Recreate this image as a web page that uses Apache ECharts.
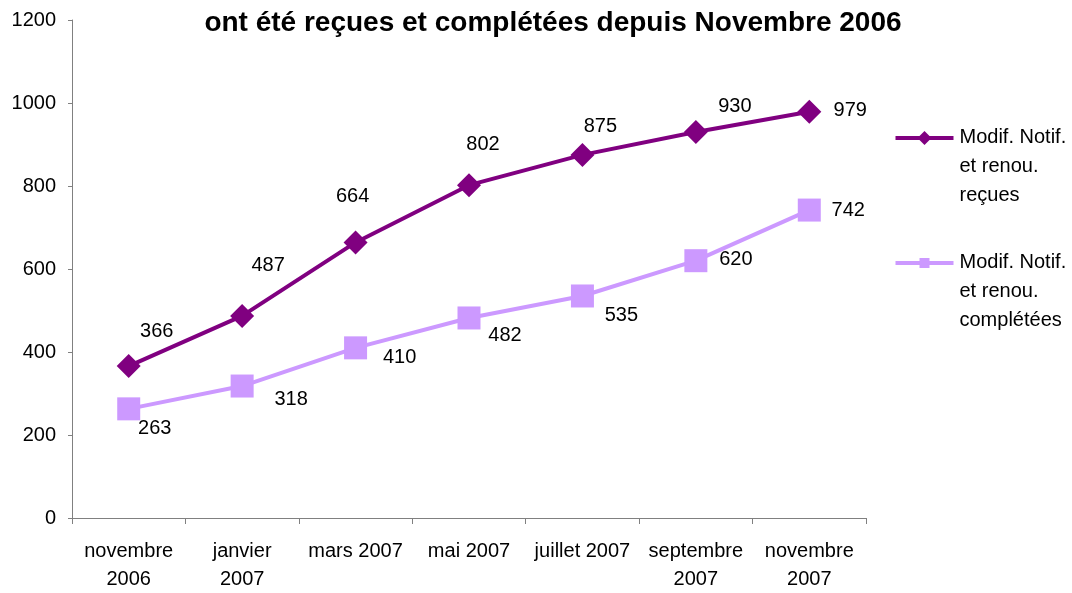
<!DOCTYPE html>
<html>
<head>
    <meta charset="utf-8">
    <title>Modif. Notif. et renou.</title>
    <script src="https://cdn.jsdelivr.net/npm/echarts@6/dist/echarts.min.js"></script>
    <style>
        html, body { margin: 0; padding: 0; background: #fff; }
    </style>
</head>
<body>
    <div id="main" style="width: 1072px;height:593px;"></div>
    <script type="text/javascript">
        // données
        var categories = ['novembre\n2006', 'janvier\n2007', 'mars 2007', 'mai 2007', 'juillet 2007', 'septembre\n2007', 'novembre\n2007'];
        var recues = [366, 487, 664, 802, 875, 930, 979];
        var completees = [263, 318, 410, 482, 535, 620, 742];
        var yTicks = [0, 200, 400, 600, 800, 1000, 1200];

        // décalages des étiquettes (comme dans Excel)
        var offsetsRecues = [[28, -35], [26, -50], [-3, -46], [14, -41], [18, -28], [39, -26], [41, -1]];
        var offsetsCompletees = [[26, 20], [49, 13], [44, 10], [36, 18], [39, 20], [40, -1], [39, 0]];

        var fontFam = '"Liberation Sans", Arial, sans-serif';

        function withOffsets(values, offsets) {
            var arr = [];
            for (var i = 0; i < values.length; i++) {
                arr.push({ value: values[i], label: { offset: offsets[i] } });
            }
            return arr;
        }

        function legendItem(y, color, symbol, lines) {
            return {
                type: 'group',
                left: 893,
                top: y - 14,
                children: [
                    { type: 'line', shape: { x1: 0, y1: 14, x2: 58, y2: 14 }, style: { stroke: color, lineWidth: 4 } },
                    symbol === 'diamond'
                        ? { type: 'polygon', shape: { points: [[29, 7], [36, 14], [29, 21], [22, 14]] }, style: { fill: color } }
                        : { type: 'rect', shape: { x: 24, y: 9, width: 10, height: 10 }, style: { fill: color } },
                    { type: 'text', x: 64, y: -1, style: { text: lines.join('\n'), font: '20px ' + fontFam, fill: '#000', lineHeight: 29, verticalAlign: 'top' } }
                ]
            };
        }

        var myChart = echarts.init(document.getElementById('main'));

        var option = {
            animation: false,
            backgroundColor: '#fff',
            title: {
                text: 'ont été reçues et complétées depuis Novembre 2006',
                left: 548,
                textAlign: 'center',
                top: 4,
                textStyle: { fontFamily: fontFam, fontSize: 28, fontWeight: 'bold', color: '#000' }
            },
            grid: { left: 72, right: 206, top: 20, bottom: 71, containLabel: false },
            xAxis: {
                type: 'category',
                boundaryGap: true,
                data: categories,
                axisLine: { lineStyle: { color: '#808080', width: 1 } },
                axisTick: { show: true, interval: 0, length: 6, lineStyle: { color: '#808080' } },
                axisLabel: { interval: 0, margin: 19, fontFamily: fontFam, fontSize: 20, color: '#000', lineHeight: 28 },
                splitLine: { show: false }
            },
            yAxis: {
                type: 'value',
                min: yTicks[0],
                max: yTicks[yTicks.length - 1],
                interval: 200,
                axisLine: { show: true, lineStyle: { color: '#808080', width: 1 } },
                axisTick: { show: true, length: 4, lineStyle: { color: '#808080' } },
                axisLabel: { margin: 16, fontFamily: fontFam, fontSize: 20, color: '#000', formatter: function (v) { return String(v); } },
                splitLine: { show: false }
            },
            series: [
                {
                    name: 'Modif. Notif. et renou. reçues',
                    type: 'line',
                    data: withOffsets(recues, offsetsRecues),
                    symbol: 'diamond',
                    symbolSize: 24,
                    itemStyle: { color: '#800080' },
                    lineStyle: { color: '#800080', width: 4 },
                    label: { show: true, position: 'inside', color: '#000', fontFamily: fontFam, fontSize: 20 }
                },
                {
                    name: 'Modif. Notif. et renou. complétées',
                    type: 'line',
                    data: withOffsets(completees, offsetsCompletees),
                    symbol: 'rect',
                    symbolSize: 23,
                    itemStyle: { color: '#CC99FF' },
                    lineStyle: { color: '#CC99FF', width: 4 },
                    label: { show: true, position: 'inside', color: '#000', fontFamily: fontFam, fontSize: 20 }
                }
            ],
            graphic: [
                legendItem(137, '#800080', 'diamond', ['Modif. Notif.', 'et renou.', 'reçues']),
                legendItem(262, '#CC99FF', 'rect', ['Modif. Notif.', 'et renou.', 'complétées'])
            ]
        };

        myChart.setOption(option);
    </script>
</body>
</html>
